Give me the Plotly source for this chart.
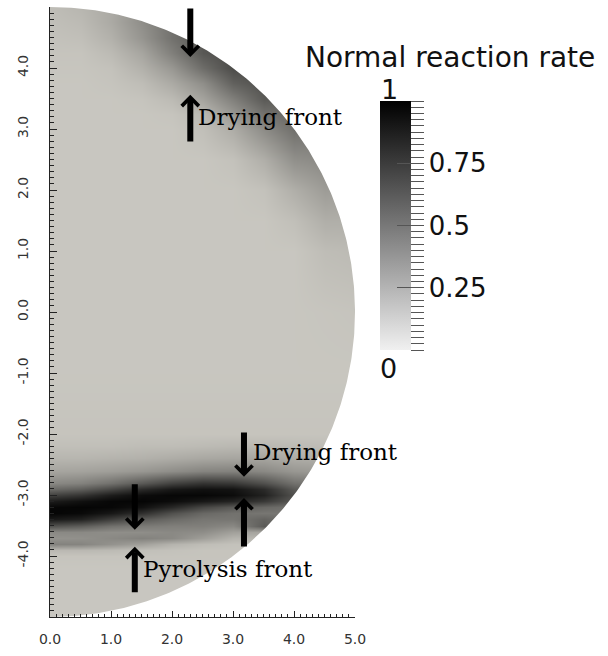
import numpy as np
import plotly.graph_objects as go

# Sampling grid of the half-disk section (cm)
x_cols = [0.0, 0.5, 1.0, 1.5, 2.0, 2.5, 3.0, 3.5, 4.0, 4.5, 5.0]
y_rows = [-5.0, -4.5, -4.2, -4.0, -3.9, -3.8, -3.7, -3.6, -3.5, -3.4, -3.3,
          -3.2, -3.1, -3.0, -2.9, -2.8, -2.6, -2.4, -2.2, -2.0, -1.0, 0.0,
          1.0, 1.5, 2.0, 2.5, 3.0, 3.25, 3.5, 3.75, 4.0, 4.25, 4.5, 4.75, 5.0]

# Normal reaction rate, one row per y_rows entry (bottom to top)
rate = [
    [.16, .16, .16, .16, .16, .16, .16, .16, .16, .16, .16],
    [.16, .16, .16, .16, .16, .16, .16, .16, .16, .16, .16],
    [.16, .16, .16, .16, .16, .16, .16, .16, .16, .16, .16],
    [.17, .17, .17, .17, .17, .17, .17, .17, .17, .17, .17],
    [.22, .22, .21, .19, .18, .17, .17, .17, .17, .17, .17],
    [.45, .44, .38, .32, .24, .20, .18, .18, .18, .18, .18],
    [.38, .39, .42, .45, .42, .33, .24, .22, .20, .20, .20],
    [.42, .42, .40, .40, .42, .40, .32, .30, .28, .28, .28],
    [.65, .60, .52, .48, .46, .46, .42, .62, .45, .45, .45],
    [.90, .86, .74, .62, .55, .50, .50, .58, .50, .50, .50],
    [.98, .96, .90, .80, .66, .56, .52, .50, .50, .50, .50],
    [.97, .98, .97, .93, .83, .70, .62, .56, .52, .52, .52],
    [.88, .93, .97, .98, .95, .90, .85, .76, .62, .60, .60],
    [.72, .78, .88, .95, .97, .97, .95, .86, .66, .60, .60],
    [.55, .60, .70, .82, .90, .93, .92, .82, .62, .55, .55],
    [.42, .45, .52, .62, .72, .78, .76, .66, .52, .48, .48],
    [.30, .31, .33, .36, .40, .44, .45, .42, .36, .34, .34],
    [.23, .23, .24, .25, .27, .29, .30, .30, .27, .26, .26],
    [.19, .19, .19, .20, .20, .21, .22, .22, .21, .20, .20],
    [.17, .17, .17, .17, .17, .17, .17, .17, .17, .17, .17],
    [.16, .16, .16, .16, .16, .16, .16, .16, .16, .16, .16],
    [.16, .16, .16, .16, .16, .16, .16, .16, .16, .165, .17],
    [.16, .16, .16, .16, .16, .16, .16, .16, .16, .20, .21],
    [.16, .16, .16, .16, .16, .16, .16, .16, .19, .26, .26],
    [.16, .16, .16, .16, .16, .16, .16, .18, .26, .34, .32],
    [.16, .16, .16, .16, .16, .16, .18, .26, .39, .42, .39],
    [.16, .16, .16, .16, .16, .19, .27, .41, .53, .49, .45],
    [.16, .16, .16, .16, .17, .22, .36, .52, .56, .50, .47],
    [.16, .16, .16, .17, .21, .31, .46, .62, .58, .53, .49],
    [.16, .16, .17, .20, .28, .40, .59, .66, .61, .57, .52],
    [.165, .165, .18, .25, .36, .54, .68, .67, .63, .59, .55],
    [.17, .17, .21, .30, .46, .63, .68, .68, .66, .60, .57],
    [.18, .19, .25, .37, .52, .63, .67, .68, .66, .62, .59],
    [.19, .21, .28, .40, .52, .61, .66, .68, .68, .66, .62],
    [.20, .23, .28, .38, .50, .60, .66, .68, .68, .66, .62],
]

radius = 5.0

x_ticks = [0, 1, 2, 3, 4, 5]
x_tick_text = ["0.0", "1.0", "2.0", "3.0", "4.0", "5.0"]
y_ticks = [-4, -3, -2, -1, 0, 1, 2, 3, 4]
y_tick_text = ["-4.0", "-3.0", "-2.0", "-1.0", "0.0", "1.0", "2.0", "3.0", "4.0"]

cb_title = "Normal reaction rate"
cb_major = [0.0, 0.25, 0.5, 0.75, 1.0]
cb_labels = {0.25: "0.25", 0.5: "0.5", 0.75: "0.75"}

# Front markers: (x, tail y, tip y)
arrows = [
    (2.30, 5.00, 4.18),
    (2.30, 2.77, 3.56),
    (3.18, -1.95, -2.70),
    (3.18, -3.87, -3.05),
    (1.39, -2.80, -3.57),
    (1.39, -4.62, -3.85),
]
front_labels = [
    ("Drying front", 2.40, 3.20),
    ("Drying front", 3.30, -2.30),
    ("Pyrolysis front", 1.49, -4.22),
]

# shaded surface colours and neutral legend scale
field_scale = [[0.0, "rgb(238,236,228)"], [1.0, "rgb(0,0,0)"]]
legend_scale = [[0.0, "rgb(240,240,240)"], [1.0, "rgb(0,0,0)"]]

W, H = 608, 656
ml, mr, mt, mb = 50, 253, 7, 39
pw, ph = W - ml - mr, H - mt - mb


def px_x(p):
    return (p - ml) / pw


def px_y(p):
    return (H - mb - p) / ph


fig = go.Figure()

fig.add_trace(go.Heatmap(
    x=x_cols, y=y_rows, z=rate, zmin=0, zmax=1,
    colorscale=field_scale, zsmooth="best", showscale=False,
    hoverinfo="skip",
))

# white cover outside the circular boundary, traced from (0,-R) up the arc
theta = np.linspace(-np.pi / 2, np.pi / 2, 361)
ext = radius * 1.1
arc_x = list(radius * np.cos(theta))
arc_y = list(radius * np.sin(theta))
mask_x = [0, 0] + arc_x + [0, ext, ext, 0]
mask_y = [-ext, -radius] + arc_y + [ext, ext, -ext, -ext]
fig.add_trace(go.Scatter(
    x=mask_x, y=mask_y, mode="lines", fill="toself",
    fillcolor="white", line=dict(width=0, color="white"),
    hoverinfo="skip", showlegend=False,
))

cb_vals = [round(i * 0.025, 3) for i in range(41)]
cb_text = [cb_labels.get(v, "") for v in cb_vals]
bar_top, bar_bot = 101, 350
cb_common = dict(
    x=px_x(380), xanchor="left", xpad=0,
    y=px_y((bar_top + bar_bot) / 2), yanchor="middle", ypad=0,
    len=bar_bot - bar_top, lenmode="pixels",
    thickness=31, thicknessmode="pixels", outlinewidth=0,
)
fig.add_trace(go.Scatter(
    x=[None], y=[None], mode="markers", showlegend=False, hoverinfo="skip",
    marker=dict(color=[0], cmin=0, cmax=1, colorscale=legend_scale,
                showscale=True,
                colorbar=dict(**cb_common, ticks="outside", ticklen=13,
                              tickwidth=1, tickcolor="#555",
                              tickmode="array", tickvals=cb_vals,
                              ticktext=cb_text,
                              tickfont=dict(family="DejaVu Sans", size=26,
                                            color="#111"))),
))
fig.add_trace(go.Scatter(
    x=[None], y=[None], mode="markers", showlegend=False, hoverinfo="skip",
    marker=dict(color=[0], cmin=0, cmax=1, colorscale=legend_scale,
                showscale=True,
                colorbar=dict(**cb_common, ticks="inside", ticklen=14,
                              tickwidth=1, tickcolor="#555",
                              tickmode="array", tickvals=cb_major,
                              showticklabels=False)),
))

annotations = []
for ax_, tail, tip in arrows:
    annotations.append(dict(
        x=ax_, y=tip, ax=ax_, ay=tail, xref="x", yref="y",
        axref="x", ayref="y", text="", showarrow=True,
        arrowhead=4, arrowsize=0.55, arrowwidth=6, arrowcolor="black",
    ))
for txt, lx, ly in front_labels:
    annotations.append(dict(
        x=lx, y=ly, xref="x", yref="y", text=txt, showarrow=False,
        xanchor="left", yanchor="middle",
        font=dict(family="DejaVu Serif", size=23, color="black"),
    ))
annotations.append(dict(
    x=px_x(450), y=px_y(58), xref="paper", yref="paper", text=cb_title,
    showarrow=False, xanchor="center", yanchor="middle",
    font=dict(family="DejaVu Sans", size=28, color="#111"),
))
annotations.append(dict(
    x=px_x(389), y=px_y(90), xref="paper", yref="paper", text="1",
    showarrow=False, xanchor="center", yanchor="middle",
    font=dict(family="DejaVu Sans", size=27, color="#111"),
))
annotations.append(dict(
    x=px_x(388), y=px_y(369), xref="paper", yref="paper", text="0",
    showarrow=False, xanchor="center", yanchor="middle",
    font=dict(family="DejaVu Sans", size=27, color="#111"),
))

tick_font = dict(family="DejaVu Sans", size=14, color="#333")
fig.update_layout(
    width=W, height=H,
    margin=dict(l=ml, r=mr, t=mt, b=mb, pad=0),
    paper_bgcolor="white", plot_bgcolor="white",
    showlegend=False,
    annotations=annotations,
    xaxis=dict(
        range=[0, radius], showgrid=False, zeroline=False,
        showline=True, linecolor="#222", linewidth=1, mirror=False,
        ticks="inside", ticklen=6, tickcolor="#222",
        tickmode="array", tickvals=x_ticks, ticktext=x_tick_text,
        tickfont=tick_font, ticklabelstandoff=9,
        minor=dict(ticks="inside", ticklen=3, tickcolor="#222",
                   tickmode="linear", tick0=0, dtick=0.1, showgrid=False),
    ),
    yaxis=dict(
        range=[-radius, radius], showgrid=False, zeroline=False,
        showline=True, linecolor="#222", linewidth=1,
        ticks="inside", ticklen=7, tickcolor="#222",
        tickmode="array", tickvals=y_ticks, ticktext=y_tick_text,
        tickangle=-90, tickfont=tick_font, ticklabelstandoff=15,
        minor=dict(ticks="inside", ticklen=4, tickcolor="#222",
                   tickmode="linear", tick0=0, dtick=0.1, showgrid=False),
    ),
)

fig.write_html("out.html")
